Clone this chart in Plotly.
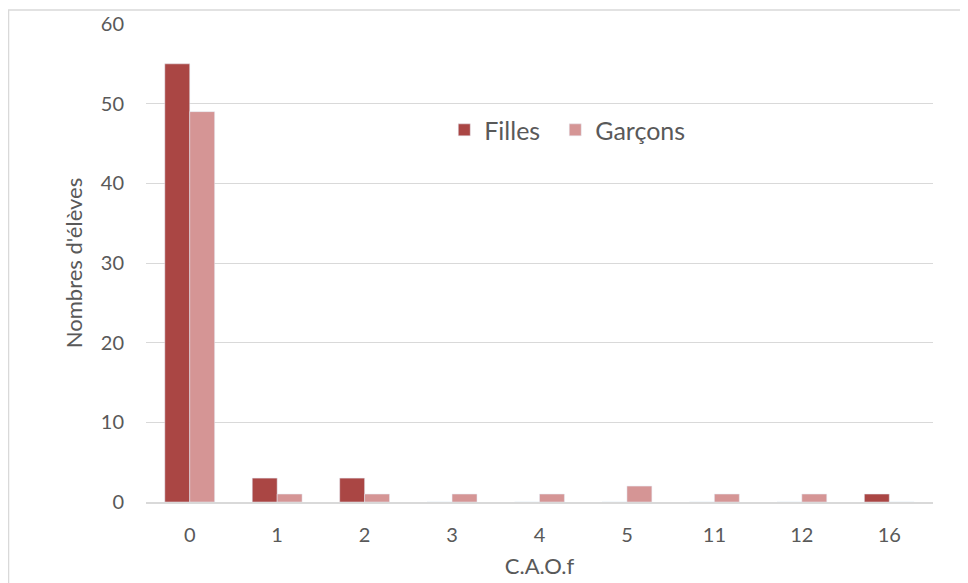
import plotly.graph_objects as go

categories = ["0", "1", "2", "3", "4", "5", "11", "12", "16"]
filles = [55, 3, 3, 0, 0, 0, 0, 0, 1]
garcons = [49, 1, 1, 1, 1, 2, 1, 1, 0]

fig = go.Figure()
fig.add_trace(go.Bar(x=categories, y=filles, name="Filles", marker_color="#AA4644",
                     legend="legend", showlegend=True))
fig.add_trace(go.Bar(x=categories, y=garcons, name="Garçons", marker_color="#D59595",
                     legend="legend2", showlegend=True))

# outer chart border
fig.add_shape(type="rect", xref="paper", yref="paper",
              x0=-0.1747, x1=1.0419, y0=-0.25, y1=1.0293,
              line=dict(color="#D9D9D9", width=1.5), layer="below")

leg = dict(orientation="h", y=0.778, xanchor="left", yanchor="middle",
           font=dict(size=25), bgcolor="rgba(0,0,0,0)")

fig.update_layout(
    width=968, height=583,
    margin=dict(l=138, r=43, t=16, b=89),
    plot_bgcolor="white", paper_bgcolor="white",
    font=dict(family="Lato", color="#595959", size=20),
    barmode="group", bargap=0.43, bargroupgap=0,
    showlegend=True,
    legend=dict(leg, x=0.379),
    legend2=dict(leg, x=0.520),
    xaxis=dict(type="category", title=dict(text="C.A.O.f", font=dict(size=22), standoff=14),
               showline=True, linecolor="#D9D9D9", linewidth=1.5, ticks="",
               ticklabelstandoff=14, automargin=False),
    yaxis=dict(range=[0, 60], dtick=10, title=dict(text="Nombres d'élèves", font=dict(size=22), standoff=12),
               gridcolor="#D9D9D9", gridwidth=1, zeroline=False, ticks="",
               ticklabelstandoff=21, automargin=False),
)

fig.write_html("out.html")
